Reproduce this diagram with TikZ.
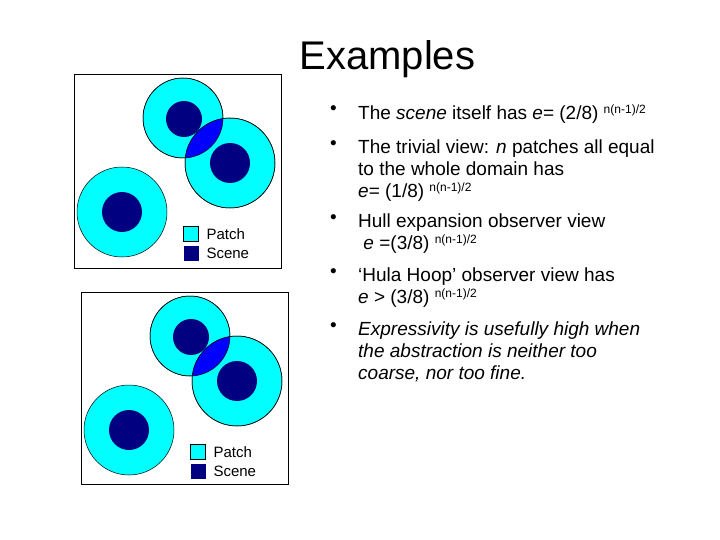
\documentclass[tikz,border=0pt]{standalone}
\usepackage{fontspec}
\setmainfont{Liberation Sans}
\begin{document}
\begin{tikzpicture}[x=1pt,y=-1pt,
  patch/.style={fill={rgb,255:red,0;green,255;blue,255},draw=black,line width=0.5pt},
  scene/.style={fill={rgb,255:red,0;green,0;blue,128}},
  frame/.style={draw=black,line width=0.7pt},
  bul/.style={anchor=north west,align=left,font=\fontsize{19}{22}\selectfont,inner sep=0pt}]
\useasboundingbox (0,0) rectangle (720,540);
\newcommand{\panel}[4]{%
 \begin{scope}[shift={(#1,#2)}]
  \draw[frame] (74,74) rectangle (#3,#4);
  \node[patch,circle,minimum size=80,inner sep=0] (pa) at (183,118) {};
  \node[patch,circle,minimum size=90,inner sep=0] (pb) at (230,163) {};
  \node[patch,circle,minimum size=90,inner sep=0] (pc) at (122,212) {};
  \begin{scope}\clip (183,118) circle (40);\fill[blue] (230,163) circle (45);\end{scope}
  \draw[line width=0.5pt] (183,118) circle (40);
  \draw[line width=0.5pt] (230,163) circle (45);
  \node[scene,circle,minimum size=36,inner sep=0] (sa) at (184,119) {};
  \node[scene,circle,minimum size=40,inner sep=0] (sb) at (230,163) {};
  \node[scene,circle,minimum size=40,inner sep=0] (sc) at (122,212) {};
  \node[patch,minimum size=15,inner sep=0] (lp) at (191,234) {};
  \node[scene,minimum size=15,inner sep=0] (ls) at (191,253) {};
  \node[anchor=west,font=\fontsize{15}{16}\selectfont] (tp) at (203,234) {Patch};
  \node[anchor=west,font=\fontsize{15}{16}\selectfont] (ts) at (203,253) {Scene};
 \end{scope}}
\panel{0}{0}{281}{268}
\panel{7}{218}{281}{266}
\node[anchor=west,font=\fontsize{40}{44}\selectfont] (title) at (296,59) {Examples};
\node[bul] (b1) at (330,105) {•};
\node[bul] (t1) at (358,105) {The \textit{scene} itself has \textit{e}= (2/8) \raisebox{6pt}{\fontsize{12}{12}\selectfont n(n-1)/2}};
\node[bul] (b2) at (330,140) {•};
\node[bul] (t2) at (358,140) {The trivial view: \textit{n} patches all equal\\to the whole domain has\\\textit{e}= (1/8) \raisebox{6pt}{\fontsize{12}{12}\selectfont n(n-1)/2}};
\node[bul] (b3) at (330,214) {•};
\node[bul] (t3) at (358,214) {Hull expansion observer view\\\ \textit{e} =(3/8) \raisebox{6pt}{\fontsize{12}{12}\selectfont n(n-1)/2}};
\node[bul] (b4) at (330,268) {•};
\node[bul] (t4) at (358,268) {‘Hula Hoop’ observer view has\\\textit{e} > (3/8) \raisebox{6pt}{\fontsize{12}{12}\selectfont n(n-1)/2}};
\node[bul] (b5) at (330,322) {•};
\node[bul] (t5) at (358,322) {\textit{Expressivity is usefully high when}\\\textit{the abstraction is neither too}\\\textit{coarse, nor too fine.}};
\end{tikzpicture}
\end{document}
